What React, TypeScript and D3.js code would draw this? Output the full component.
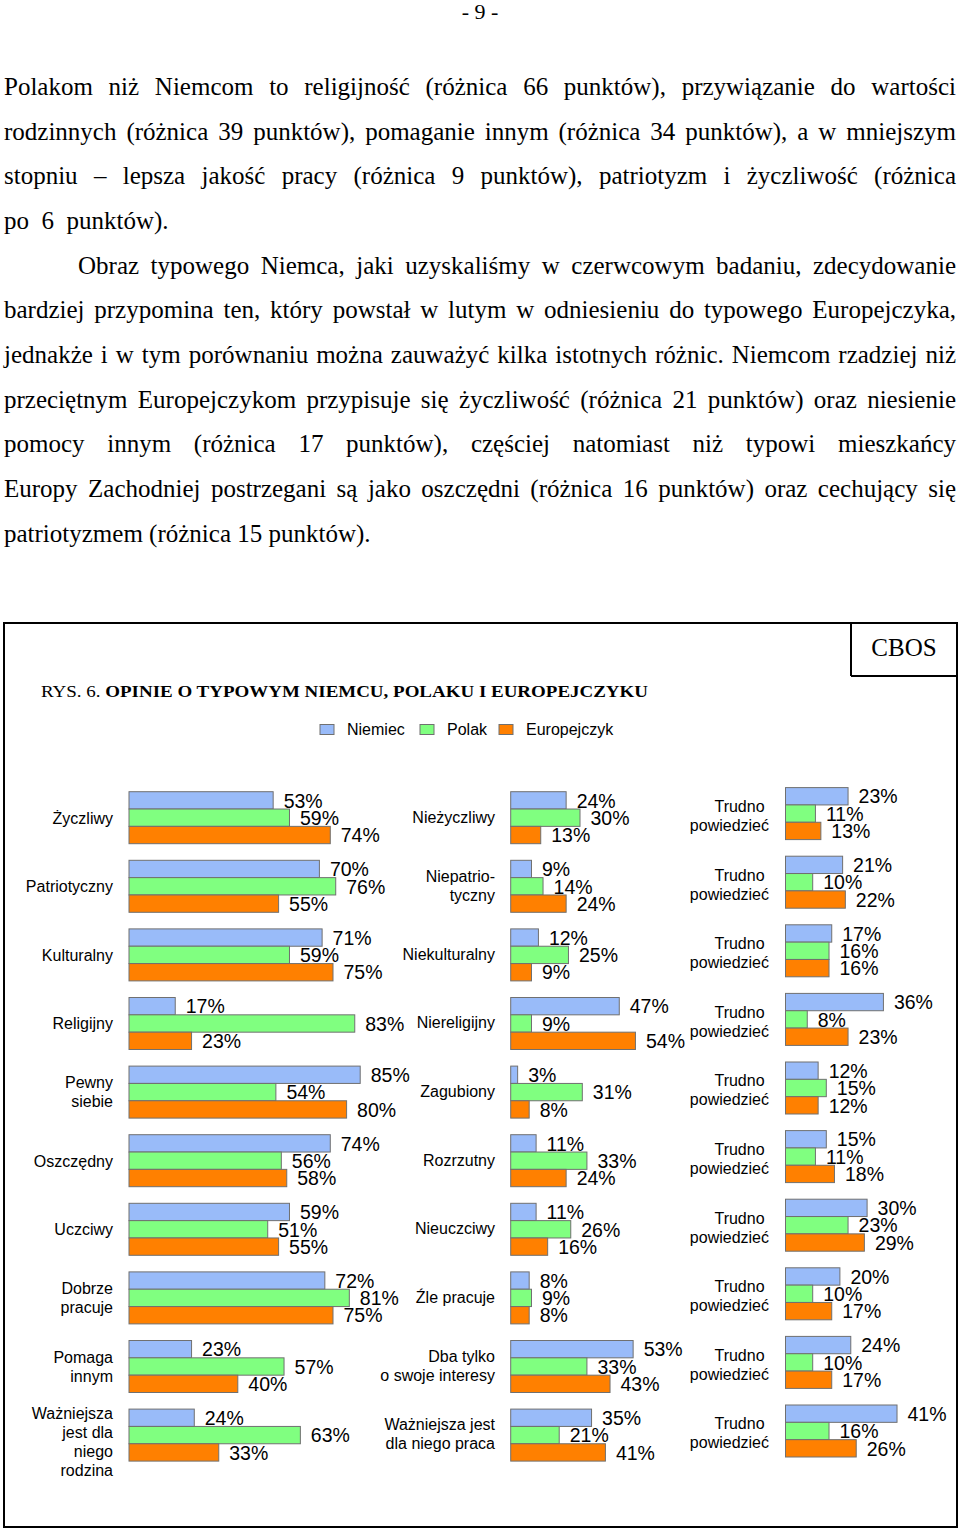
import React from 'react';
import * as d3 from 'd3';

// ---------- DATA ----------
const SERIES = ['Niemiec', 'Polak', 'Europejczyk'];
const COLORS = ['#99BBF9', '#80FF80', '#FF8000'];

const POS_LABELS = [['Życzliwy'], ['Patriotyczny'], ['Kulturalny'], ['Religijny'], ['Pewny', 'siebie'], ['Oszczędny'], ['Uczciwy'], ['Dobrze', 'pracuje'], ['Pomaga', 'innym'], ['Ważniejsza', 'jest dla', 'niego', 'rodzina']];
const NEG_LABELS = [['Nieżyczliwy'], ['Niepatrio-', 'tyczny'], ['Niekulturalny'], ['Niereligijny'], ['Zagubiony'], ['Rozrzutny'], ['Nieuczciwy'], ['Źle pracuje'], ['Dba tylko', 'o swoje interesy'], ['Ważniejsza jest', 'dla niego praca']];
const DK_LABEL = ['Trudno ', 'powiedzieć'];

const POS_NIEMIEC = [53, 70, 71, 17, 85, 74, 59, 72, 23, 24];
const POS_POLAK = [59, 76, 59, 83, 54, 56, 51, 81, 57, 63];
const POS_EURO = [74, 55, 75, 23, 80, 58, 55, 75, 40, 33];

const NEG_NIEMIEC = [24, 9, 12, 47, 3, 11, 11, 8, 53, 35];
const NEG_POLAK = [30, 14, 25, 9, 31, 33, 26, 9, 33, 21];
const NEG_EURO = [13, 24, 9, 54, 8, 24, 16, 8, 43, 41];

const DK_NIEMIEC = [23, 21, 17, 36, 12, 15, 30, 20, 24, 41];
const DK_POLAK = [11, 10, 16, 8, 15, 11, 23, 10, 10, 16];
const DK_EURO = [13, 22, 16, 23, 12, 18, 29, 17, 17, 26];

const PARAGRAPH_LINES = [
  { text: 'Polakom niż Niemcom to religijność (różnica 66 punktów), przywiązanie do wartości', indent: 0, justify: true },
  { text: 'rodzinnych (różnica 39 punktów), pomaganie innym (różnica 34 punktów), a w mniejszym', indent: 0, justify: true },
  { text: 'stopniu – lepsza jakość pracy (różnica 9 punktów), patriotyzm i życzliwość (różnica', indent: 0, justify: true },
  { text: 'po  6  punktów).', indent: 0, justify: false },
  { text: 'Obraz typowego Niemca, jaki uzyskaliśmy w czerwcowym badaniu, zdecydowanie', indent: 74, justify: true },
  { text: 'bardziej przypomina ten, który powstał w lutym w odniesieniu do typowego Europejczyka,', indent: 0, justify: true },
  { text: 'jednakże i w tym porównaniu można zauważyć kilka istotnych różnic. Niemcom rzadziej niż', indent: 0, justify: true },
  { text: 'przeciętnym Europejczykom przypisuje się życzliwość (różnica 21 punktów) oraz niesienie', indent: 0, justify: true },
  { text: 'pomocy innym (różnica 17 punktów), częściej natomiast niż typowi mieszkańcy', indent: 0, justify: true },
  { text: 'Europy Zachodniej postrzegani są jako oszczędni (różnica 16 punktów) oraz cechujący się', indent: 0, justify: true },
  { text: 'patriotyzmem (różnica 15 punktów).', indent: 0, justify: false },
];

// ---------- LAYOUT ----------
const SERIF = "'Liberation Serif', 'Times New Roman', serif";
const SANS = "'Liberation Sans', Arial, sans-serif";
const P_FONT = 25;
const P_LEFT = 4;
const P_RIGHT = 956;
const P_TOP = 95;
const P_LH = 44.65;

const ROW_STEP = 68.6;
const GROUP_H = 52;
const N_ROWS = 10;

let _ctx: CanvasRenderingContext2D | null = null;
function measure(text: string, font: string) {
  if (!_ctx) _ctx = document.createElement('canvas').getContext('2d');
  _ctx!.font = font;
  return _ctx!.measureText(text).width;
}

function ParagraphLine({ line, y }: any) {
  const x0 = P_LEFT + line.indent;
  const font = `${P_FONT}px 'Liberation Serif'`;
  if (!line.justify) {
    return (
      <text x={x0} y={y} fontFamily={SERIF} fontSize={P_FONT} style={{ whiteSpace: 'pre' }}>
        {line.text}
      </text>
    );
  }
  const words = line.text.split(' ');
  const widths = words.map((w: string) => measure(w, font));
  const total = d3.sum(widths);
  const gap = (P_RIGHT - x0 - total) / (words.length - 1);
  let x = x0;
  const items = words.map((w: string, i: number) => {
    const el = (
      <text key={i} x={x} y={y} fontFamily={SERIF} fontSize={P_FONT}>
        {w}
      </text>
    );
    x += widths[i] + gap;
    return el;
  });
  return <g>{items}</g>;
}

function Panel({ labels, values, x0, pxPer100, top, labelX, labelCenterOffset }: any) {
  const rowScale = d3
    .scaleBand<number>()
    .domain(d3.range(N_ROWS))
    .range([top - (ROW_STEP - GROUP_H) / 2, top - (ROW_STEP - GROUP_H) / 2 + ROW_STEP * N_ROWS])
    .paddingInner((ROW_STEP - GROUP_H) / ROW_STEP)
    .paddingOuter((ROW_STEP - GROUP_H) / ROW_STEP / 2);
  const serScale = d3.scaleBand<number>().domain([0, 1, 2]).range([0, rowScale.bandwidth()]);
  const x = d3.scaleLinear().domain([0, 100]).range([x0, x0 + pxPer100]);
  const bh = serScale.bandwidth();

  return (
    <g>
      {d3.range(N_ROWS).map((r) => {
        const gy = rowScale(r)!;
        const lines: string[] = labels[r];
        const extra = lines.length >= 4 ? 7 : 0;
        const lc = gy + GROUP_H / 2 + labelCenterOffset + extra;
        const lh = 19;
        const firstY = lc - ((lines.length - 1) * lh) / 2 + 5.8;
        return (
          <g key={r}>
            {lines.map((t, i) => (
              <text key={i} x={labelX} y={firstY + i * lh} textAnchor="end" fontFamily={SANS} fontSize={16} fill="#000" style={{ whiteSpace: 'pre' }}>
                {t}
              </text>
            ))}
            {values.map((arr: number[], s: number) => {
              const v = arr[r];
              const by = gy + serScale(s)!;
              return (
                <g key={s}>
                  <rect x={x(0)} y={by} width={x(v) - x(0)} height={bh} fill={COLORS[s]} stroke="#707070" strokeWidth={1} />
                  <text x={x(v) + 10.5} y={by + bh / 2 + 7.2} fontFamily={SANS} fontSize={19.5} fill="#000">
                    {v}%
                  </text>
                </g>
              );
            })}
          </g>
        );
      })}
    </g>
  );
}

export default function App() {
  if (typeof document !== 'undefined') {
    document.body.style.margin = '0';
  }
  return (
    <svg width={960} height={1529} viewBox="0 0 960 1529" style={{ display: 'block', background: '#fff' }}>
      <rect x={0} y={0} width={960} height={1529} fill="#fff" />
      {/* page number */}
      <text x={480} y={19} textAnchor="middle" fontFamily={SERIF} fontSize={22}>
        - 9 -
      </text>

      {/* paragraph */}
      {PARAGRAPH_LINES.map((line, i) => (
        <ParagraphLine key={i} line={line} y={P_TOP + i * P_LH} />
      ))}

      {/* frame */}
      <rect x={4} y={623} width={953} height={904} fill="none" stroke="#000" strokeWidth={2} />
      <line x1={851} y1={623} x2={851} y2={676} stroke="#000" strokeWidth={2} />
      <line x1={851} y1={676} x2={957} y2={676} stroke="#000" strokeWidth={2} />
      <text x={904} y={656} textAnchor="middle" fontFamily={SERIF} fontSize={25}>
        CBOS
      </text>

      {/* title */}
      <text x={41} y={697} fontFamily={SERIF} fontSize={17.5} textLength={607} lengthAdjust="spacingAndGlyphs">
        <tspan>RYS. 6. </tspan>
        <tspan fontWeight="bold">OPINIE O TYPOWYM NIEMCU, POLAKU I EUROPEJCZYKU</tspan>
      </text>

      {/* legend */}
      {SERIES.map((s, i) => {
        const lx = [320, 420, 499][i];
        return (
          <g key={s}>
            <rect x={lx} y={724.5} width={14} height={10} fill={COLORS[i]} stroke="#707070" strokeWidth={1} />
            <text x={lx + 27} y={735} fontFamily={SANS} fontSize={16}>
              {s}
            </text>
          </g>
        );
      })}

      <Panel labels={POS_LABELS} values={[POS_NIEMIEC, POS_POLAK, POS_EURO]} x0={129} pxPer100={272} top={791.7} labelX={113} labelCenterOffset={0} />
      <Panel labels={NEG_LABELS} values={[NEG_NIEMIEC, NEG_POLAK, NEG_EURO]} x0={510.7} pxPer100={231} top={791.7} labelX={495} labelCenterOffset={-1} />
      <Panel labels={d3.range(N_ROWS).map(() => DK_LABEL)} values={[DK_NIEMIEC, DK_POLAK, DK_EURO]} x0={785.5} pxPer100={272} top={787.6} labelX={769} labelCenterOffset={2} />
    </svg>
  );
}
